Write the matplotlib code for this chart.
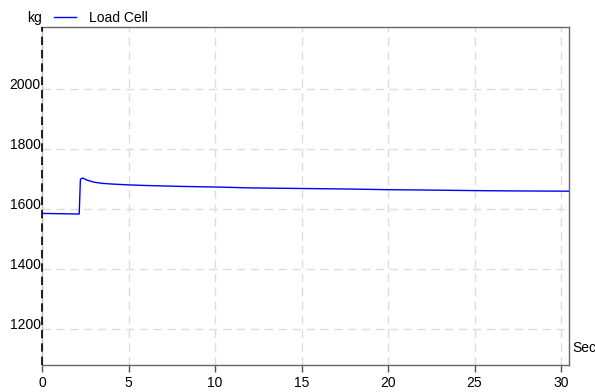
import matplotlib
matplotlib.use('Agg')
import matplotlib.pyplot as plt

plt.rcParams['font.family'] = ['Liberation Sans', 'DejaVu Sans']

# time (s) and load cell reading (kg)
time = [0, 1, 2.15, 2.22, 2.35, 2.6, 3.0, 3.5, 4, 5, 6, 8, 10, 12, 15, 18, 20, 22, 25, 27, 30.5]
load = [1586, 1585, 1584, 1700, 1704, 1697, 1690, 1686, 1684, 1681, 1679, 1676,
        1674, 1671, 1669, 1667, 1665, 1664, 1662, 1661, 1660]
xticks = [0, 5, 10, 15, 20, 25, 30]
yticks = [1200, 1400, 1600, 1800, 2000]

fig = plt.figure(figsize=(5.95, 3.92), dpi=100)
ax = fig.add_axes([42/595, 1-364.7/392, (569-42)/595, (364.7-27)/392])

ax.plot(time, load, color='#0000ff', lw=1.0, label='Load Cell', zorder=3)

ax.set_xlim(0, 30.46)
ax.set_ylim(1082, 2207)
ax.set_xticks(xticks)
ax.set_yticks(yticks)
ax.grid(True, color='#dddddd', ls=(0, (6, 4)), lw=1.0)

ax.tick_params(axis='x', length=5, width=1, color='#555555', labelsize=10, pad=3)
ax.tick_params(axis='y', length=0, labelsize=10, pad=1)
for lab in ax.get_yticklabels():
    lab.set_verticalalignment('baseline')

for s in ['top', 'right', 'bottom']:
    ax.spines[s].set_color('#666666')
    ax.spines[s].set_linewidth(1.0)
ax.spines['left'].set_color('#bbbbbb')
ax.spines['left'].set_linewidth(1.0)
ax.axvline(0, color='black', lw=1.2, ls=(0, (5, 3)), zorder=4, clip_on=False)

fig.text(42/595, 1-18/392, 'kg', ha='right', va='center', fontsize=10)
fig.text(572/595, 1-348/392, 'Sec', ha='left', va='center', fontsize=10)
ax.legend(loc='center left', bbox_to_anchor=(12/527, 1 + 9/337.7), frameon=False,
          fontsize=10, handlelength=1.6, borderaxespad=0, borderpad=0, handletextpad=0.9)

plt.savefig('out.png', dpi=100)
